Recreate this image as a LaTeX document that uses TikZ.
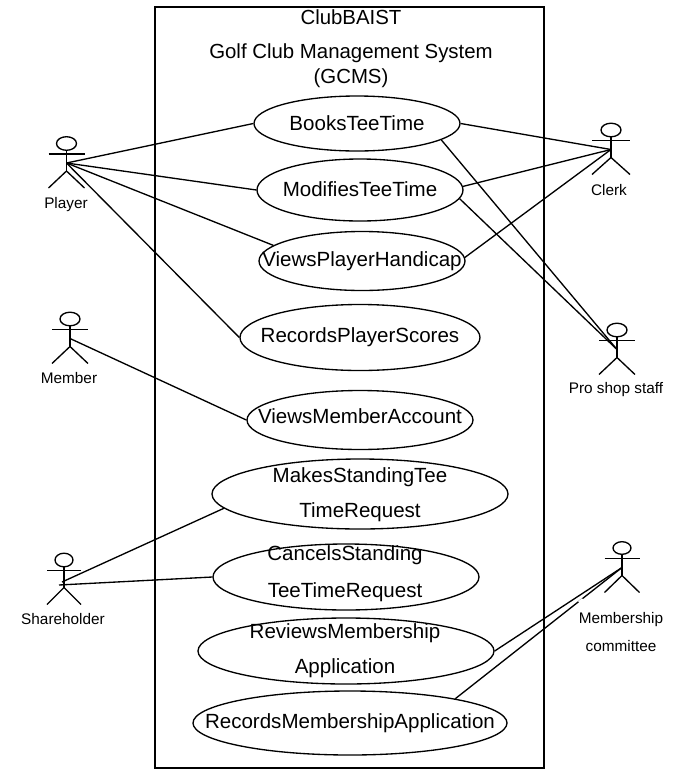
\documentclass[tikz,border=0pt]{standalone}
\usepackage{fontspec}
\setmainfont{Liberation Sans}
\usetikzlibrary{shapes.geometric}
\tikzset{
  x=0.75pt,y=-0.75pt,
  line/.style={draw=black,line width=1pt},
  uc/.style={ellipse,line,inner sep=0pt,fill=none},
  uctext/.style={align=center,inner sep=0pt,font=\fontsize{15.4pt}{26pt}\selectfont},
  actorlabel/.style={inner sep=0pt,anchor=base,font=\fontsize{11.5pt}{13pt}\selectfont},
  titletext/.style={inner sep=0pt,anchor=base,font=\fontsize{15.3pt}{18pt}\selectfont},
}
% \actorfig{name}{cx}{head cy}{half width of arms}{head rx}{head ry}
\newcommand{\actorfig}[6]{%
  \draw[line] (#2,#3) ellipse [x radius=#5,y radius=#6];
  \draw[line] (#2,#3+#6) -- (#2,#3+27.5);
  \draw[line] (#2-#4,#3+10.5) -- (#2+#4,#3+10.5);
  \draw[line] (#2-#4,#3+44.5) -- (#2,#3+27.5) -- (#2+#4,#3+44.5);
  \coordinate (#1) at (#2,#3+19.5);
}
\begin{document}
\begin{tikzpicture}
\useasboundingbox (0,0) rectangle (675,779);
\fill[white] (0,0) rectangle (675,779);
\draw[line] (155,7) rectangle (544,768);
\node[titletext] (t1) at (351,24) {ClubBAIST};
\node[titletext] (t2) at (351,58) {Golf Club Management System};
\node[titletext] (t3) at (351,83) {(GCMS)};

\node[uc,minimum width=206pt*0.75,minimum height=55pt*0.75,label={[uctext]center:BooksTeeTime}] (books) at (357,123.5) {};
\node[uc,minimum width=206pt*0.75,minimum height=62pt*0.75,label={[uctext,yshift=0.75pt]center:ModifiesTeeTime}] (modifies) at (360,190) {};
\node[uc,minimum width=206pt*0.75,minimum height=59pt*0.75,label={[uctext]center:ViewsPlayerHandicap}] (handicap) at (362,261) {};
\node[uc,minimum width=240pt*0.75,minimum height=66pt*0.75,label={[uctext]center:RecordsPlayerScores}] (scores) at (360,337.5) {};
\node[uc,minimum width=226pt*0.75,minimum height=59pt*0.75,label={[uctext,yshift=3pt]center:ViewsMemberAccount}] (account) at (360,420) {};
\node[uc,minimum width=296pt*0.75,minimum height=70pt*0.75,label={[uctext,yshift=-0.75pt]center:{MakesStandingTee\\TimeRequest}}] (makes) at (360,494) {};
\node[uc,minimum width=266pt*0.75,minimum height=66pt*0.75,label={[uctext,yshift=2.25pt,xshift=-0.75pt]center:{CancelsStanding\\[1.5pt]TeeTimeRequest}}] (cancels) at (346,577) {};
\node[uc,minimum width=296pt*0.75,minimum height=66pt*0.75,label={[uctext,yshift=0pt,xshift=-0.75pt]center:{ReviewsMembership\\Application}}] (reviews) at (346,651) {};
\node[uc,minimum width=314pt*0.75,minimum height=64pt*0.75,label={[uctext,yshift=-0.5pt]center:RecordsMembershipApplication}] (records) at (350,723) {};

\actorfig{player}{66.5}{143.5}{18}{10}{6.8}
\actorfig{clerk}{611}{130}{19}{10}{6.8}
\actorfig{proshop}{617}{330}{18}{10}{6.8}
\actorfig{member}{70}{319}{18}{10}{6.8}
\actorfig{holder}{64}{560}{17}{9}{6.8}
\actorfig{committee}{622}{548}{17.5}{9}{6.3}
\coordinate (holderA) at (62,582);
\coordinate (holderB) at (59,585);

\node[actorlabel] (lplayer) at (66,208) {Player};
\node[actorlabel] (lclerk) at (609,195) {Clerk};
\node[actorlabel] (lpro) at (616,393) {Pro shop staff};
\node[actorlabel] (lmember) at (69,383) {Member};
\node[actorlabel] (lholder) at (63,624) {Shareholder};
\node[actorlabel] (lcomm1) at (621,623) {Membership};
\node[actorlabel] (lcomm2) at (621,651) {committee};

\draw[line] (player) -- (books.west);
\draw[line] (player) -- (modifies.west);
\draw[line] (player) -- (handicap.170);
\draw[line] (player) -- (scores.west);
\draw[line] (member) -- (account.west);
\draw[line] (holderA) -- (makes.186.5);
\draw[line] (holderB) -- (cancels.west);
\draw[line] (books.east) -- (clerk);
\draw[line] (modifies.2) -- (clerk);
\draw[line] (handicap.2) -- (clerk);
\draw[line] (books.-11) -- (proshop);
\draw[line] (modifies.-5) -- (proshop);
\draw[line] (reviews.east) -- (committee);
\draw[line] (records.13.5) -- (committee);
\draw[white,line width=1.6pt] (578.8,602) -- (582.6,599);
\end{tikzpicture}
\end{document}
